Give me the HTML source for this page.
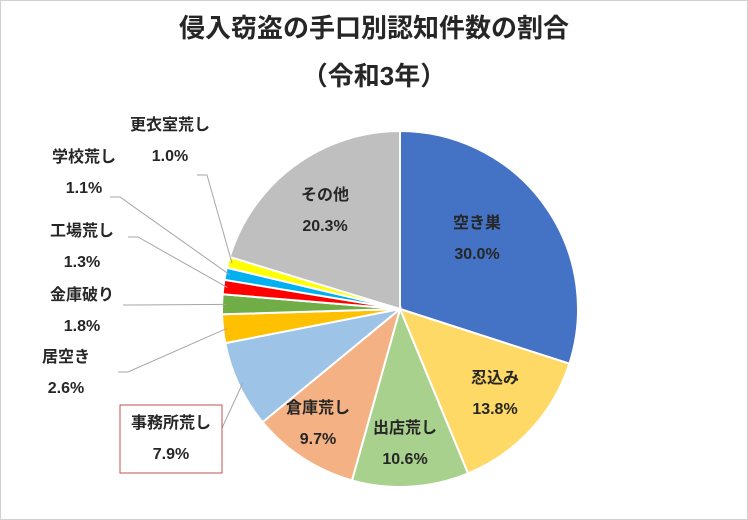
<!DOCTYPE html>
<html><head><meta charset="utf-8"><style>
body{margin:0;background:#fff;}
svg{display:block;font-family:"Liberation Sans","Noto Sans CJK JP",sans-serif;}
</style></head><body>
<svg width="748" height="520" viewBox="0 0 748 520">
<rect x="0.5" y="0.5" width="747" height="519" fill="#fff" stroke="#d0d0d0"/>
<text x="374" y="37" text-anchor="middle" font-size="26" font-weight="bold" fill="#262626">侵入窃盗の手口別認知件数の割合</text>
<text x="374" y="85" text-anchor="middle" font-size="26" font-weight="bold" fill="#262626">（令和3年）</text>
<g id="slices"></g>
<g id="leaders"></g>
<g id="labels"></g>
<rect x="120" y="405" width="102" height="68" fill="none" stroke="#c0504d" stroke-width="1"/>
</svg>
<script>
const categories=["空き巣","忍込み","出店荒し","倉庫荒し","事務所荒し","居空き","金庫破り","工場荒し","学校荒し","更衣室荒し","その他"];
const values=[30.0,13.8,10.6,9.7,7.9,2.6,1.8,1.3,1.1,1.0,20.3];
const valueLabels=["30.0%","13.8%","10.6%","9.7%","7.9%","2.6%","1.8%","1.3%","1.1%","1.0%","20.3%"];
const colors=["#4472C4","#FFD966","#A9D18E","#F4B183","#9DC3E6","#FFC000","#70AD47","#FF0000","#00B0F0","#FFFF00","#BFBFBF"];
const cx=400,cy=309,r=178;
const NS="http://www.w3.org/2000/svg";
const total=values.reduce((a,b)=>a+b,0);
function pt(a,rr){return [cx+rr*Math.sin(a),cy-rr*Math.cos(a)];}
const inside={0:[477,228],1:[495,383],2:[405,433],3:[318,413],10:[325,200]};
const outside={4:[171,428,222,428],5:[66,362,118,372],6:[82,300,123,305],7:[82,236,128,237],8:[84,162,110,197],9:[170,130,197,175]};
const gS=document.getElementById('slices'),gL=document.getElementById('labels'),gD=document.getElementById('leaders');
let a=0;
values.forEach((v,i)=>{
  const a0=a,a1=a+v/total*2*Math.PI;a=a1;
  const p0=pt(a0,r),p1=pt(a1,r);
  const path=document.createElementNS(NS,'path');
  path.setAttribute('d',`M${cx},${cy}L${p0[0]},${p0[1]}A${r},${r} 0 ${a1-a0>Math.PI?1:0} 1 ${p1[0]},${p1[1]}Z`);
  path.setAttribute('fill',colors[i]);path.setAttribute('stroke','#fff');path.setAttribute('stroke-width','2');
  
  
  gS.appendChild(path);
  let lx,ly;
  if(inside[i]){[lx,ly]=inside[i];}
  else{
    const o=outside[i];lx=o[0];ly=o[1];
    const m=pt((a0+a1)/2,r-4);
    const ln=document.createElementNS(NS,'polyline');
    ln.setAttribute('points',`${o[2]},${o[3]} ${o[2]+(i===4?0:10)},${o[3]} ${m[0]},${m[1]}`);
    ln.setAttribute('fill','none');ln.setAttribute('stroke','#a6a6a6');ln.setAttribute('stroke-width','1');
    
    
    gD.appendChild(ln);
  }
  const t1=document.createElementNS(NS,'text');
  t1.setAttribute('x',lx);t1.setAttribute('y',ly);t1.setAttribute('text-anchor','middle');
  t1.setAttribute('font-size','16');t1.setAttribute('font-weight','bold');t1.setAttribute('fill','#262626');
  t1.textContent=categories[i];
  
  
  gL.appendChild(t1);
  const t2=document.createElementNS(NS,'text');
  t2.setAttribute('x',lx);t2.setAttribute('y',ly+31);t2.setAttribute('text-anchor','middle');
  t2.setAttribute('font-size','16');t2.setAttribute('font-weight','bold');t2.setAttribute('fill','#262626');
  t2.textContent=valueLabels[i];
  
  
  gL.appendChild(t2);
});
</script>
</body></html>
